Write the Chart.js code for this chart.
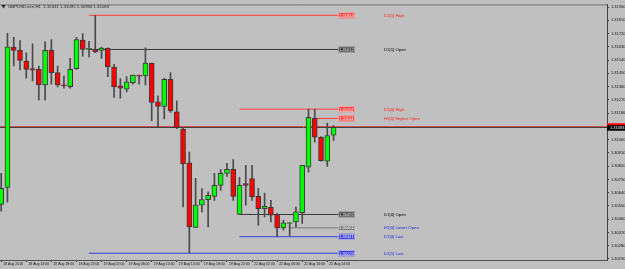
<!DOCTYPE html>
<html>
<head>
<meta charset="utf-8">
<script src="https://cdn.jsdelivr.net/npm/chart.js@4.4.1/dist/chart.umd.min.js"></script>
<style>
  html, body { margin: 0; padding: 0; background: #c0c0c0; }
  #wrap { width: 625px; height: 269px; }
</style>
</head>
<body>
<div id="wrap"><canvas id="candles" width="625" height="269"></canvas></div>
<script>
// GBPUSD.ecn H1 bars, 18 Aug 2016 10:00 .. 22 Aug 2016 15:00
var opens = [1.30561, 1.30676, 1.31628, 1.31606, 1.31533, 1.31482, 1.31477, 1.31371, 1.31608, 1.31455,
             1.31371, 1.31360, 1.31482, 1.31675, 1.31612, 1.31608, 1.31606, 1.31619, 1.31493, 1.31365,
             1.31342, 1.31387, 1.31439, 1.31432, 1.31520, 1.31257, 1.31225, 1.31410, 1.31189, 1.31072,
             1.30843, 1.30404, 1.30555, 1.30593, 1.30615, 1.30690, 1.30771, 1.30798, 1.30492, 1.30701,
             1.30735, 1.30615, 1.30532, 1.30543, 1.30492, 1.30401, 1.30431, 1.30442, 1.30505, 1.30813,
             1.31144, 1.31016, 1.30854, 1.31031];
var highs = [1.30771, 1.31722, 1.31695, 1.31673, 1.31590, 1.31650, 1.31500, 1.31664, 1.31680, 1.31500,
             1.31432, 1.31552, 1.31695, 1.31720, 1.31668, 1.31844, 1.31628, 1.31623, 1.31511, 1.31414,
             1.31428, 1.31439, 1.31439, 1.31623, 1.31520, 1.31297, 1.31417, 1.31455, 1.31263, 1.31083,
             1.30915, 1.30737, 1.30667, 1.30645, 1.30771, 1.30798, 1.30840, 1.30865, 1.30744, 1.30825,
             1.30825, 1.30669, 1.30638, 1.30588, 1.30499, 1.30453, 1.30435, 1.30543, 1.30825, 1.31207,
             1.31207, 1.31020, 1.31113, 1.31095];
var lows = [1.30514, 1.30575, 1.31500, 1.31473, 1.31417, 1.31398, 1.31270, 1.31270, 1.31376, 1.31358,
            1.31349, 1.31349, 1.31477, 1.31567, 1.31562, 1.31590, 1.31552, 1.31428, 1.31286, 1.31282,
            1.31324, 1.31376, 1.31376, 1.31371, 1.31128, 1.31088, 1.31140, 1.31185, 1.31074, 1.30543,
            1.30229, 1.30404, 1.30510, 1.30408, 1.30588, 1.30656, 1.30750, 1.30588, 1.30492, 1.30555,
            1.30588, 1.30420, 1.30476, 1.30442, 1.30341, 1.30386, 1.30346, 1.30408, 1.30431, 1.30780,
            1.30982, 1.30854, 1.30818, 1.30994];
var closes = [1.30669, 1.31630, 1.31606, 1.31538, 1.31477, 1.31471, 1.31371, 1.31606, 1.31455, 1.31371,
              1.31365, 1.31477, 1.31680, 1.31612, 1.31619, 1.31596, 1.31621, 1.31495, 1.31358, 1.31349,
              1.31392, 1.31439, 1.31430, 1.31520, 1.31252, 1.31225, 1.31410, 1.31196, 1.31083, 1.30836,
              1.30408, 1.30555, 1.30593, 1.30622, 1.30690, 1.30771, 1.30798, 1.30615, 1.30690, 1.30690,
              1.30611, 1.30532, 1.30548, 1.30487, 1.30401, 1.30435, 1.30433, 1.30510, 1.30825, 1.31151,
              1.31016, 1.30858, 1.31027, 1.31083];

var timeLabels = ["18 Aug 2016", "18 Aug 14:00", "18 Aug 18:00", "18 Aug 22:00", "19 Aug 02:00",
                  "19 Aug 06:00", "19 Aug 10:00", "19 Aug 14:00", "19 Aug 18:00", "19 Aug 22:00",
                  "22 Aug 02:00", "22 Aug 06:00", "22 Aug 10:00", "22 Aug 14:00"];
var timeLabelBars = [0, 4, 8, 12, 16, 20, 24, 28, 32, 36, 40, 44, 48, 52];

var priceTicks = [1.30190, 1.30280, 1.30370, 1.30460, 1.30550, 1.30640, 1.30730, 1.30820, 1.30910, 1.31000,
                  1.31090, 1.31180, 1.31270, 1.31360, 1.31450, 1.31540, 1.31630, 1.31720, 1.31810, 1.31900];

var levelNames  = ["D1[1] High", "D1[1] Open", "D1[0] High", "H1[1] Higher Open",
                   "D1[0] Open", "H1[0] Lower Open", "D1[0] Low", "D1[1] Low"];
var levelPrices = [1.31844, 1.31612, 1.31207, 1.31144, 1.30492, 1.30401, 1.30341, 1.30229];
var levelFromBar = [14, 14, 38, 50, 38, 46, 38, 14];

var bidPrice = 1.31083;
var askPrice = 1.31094;
var chartTitle = "GBPUSD.ecn,H1  1.31031 1.31095 1.30994 1.31083";

// ---- styling ----
var FONT = '"Liberation Sans", Arial, sans-serif';
var lineEnd = opens.length - 1 + 0.7;

function levelColor(name) {
  if (name.indexOf("Lower Open") >= 0) return "#7a7a7a";
  if (name.indexOf("High") >= 0) return "#ff3b3b";
  if (name.indexOf("Low") >= 0) return "#3a3adf";
  return "#3a3a3a";
}
function levelText(name) {
  if (name.indexOf("High") >= 0) return "#ff2020";
  if (name.indexOf("Low") >= 0) return "#2828e0";
  return "#000000";
}

var bodies = opens.map(function (o, i) { return { x: i, y: [o, closes[i]] }; });
var wicks = lows.map(function (l, i) { return { x: i, y: [l, highs[i]] }; });

var datasets = [
  {
    type: 'bar', data: bodies, order: 0, grouped: false,
    barThickness: 5, minBarLength: 1, borderWidth: 1, borderSkipped: false,
    borderColor: '#3a3a3a',
    backgroundColor: opens.map(function (o, i) { return closes[i] >= o ? '#00ff00' : '#ff0000'; })
  },
  {
    type: 'bar', data: wicks, order: 1, grouped: false,
    barThickness: 1, borderWidth: 0, backgroundColor: '#4a4a4a'
  }
];
levelNames.forEach(function (name, k) {
  datasets.push({
    type: 'line', order: 2,
    data: [{ x: levelFromBar[k], y: levelPrices[k] }, { x: lineEnd, y: levelPrices[k] }],
    borderColor: levelColor(name), borderWidth: 1, pointRadius: 0, tension: 0
  });
});

var decor = {
  id: 'decor',
  beforeDraw: function (chart) {
    var ctx = chart.ctx;
    ctx.save();
    ctx.fillStyle = '#c0c0c0';
    ctx.fillRect(0, 0, chart.width, chart.height);
    ctx.restore();
  },
  beforeDatasetsDraw: function (chart) {
    var ctx = chart.ctx, a = chart.chartArea, ys = chart.scales.y;
    ctx.save();
    var ay = Math.round(ys.getPixelForValue(askPrice)) + 0.5;
    var by = Math.round(ys.getPixelForValue(bidPrice)) + 0.5;
    ctx.lineWidth = 1;
    ctx.strokeStyle = '#d85050';
    ctx.beginPath(); ctx.moveTo(a.left, ay); ctx.lineTo(a.right, ay); ctx.stroke();
    ctx.strokeStyle = '#404040';
    ctx.beginPath(); ctx.moveTo(a.left, by); ctx.lineTo(a.right, by); ctx.stroke();
    ctx.restore();
  },
  afterDraw: function (chart) {
    var ctx = chart.ctx, a = chart.chartArea, xs = chart.scales.x, ys = chart.scales.y;
    ctx.save();
    // frame top
    ctx.strokeStyle = '#707070';
    ctx.lineWidth = 1;
    ctx.beginPath(); ctx.moveTo(0, a.top + 0.5); ctx.lineTo(a.right, a.top + 0.5); ctx.stroke();

    // title
    ctx.fillStyle = '#202020';
    ctx.beginPath(); ctx.moveTo(1.5, 5); ctx.lineTo(5.5, 5); ctx.lineTo(3.5, 8.5); ctx.closePath(); ctx.fill();
    ctx.font = '4.3px ' + FONT;
    ctx.textBaseline = 'middle';
    ctx.textAlign = 'left';
    ctx.fillText(chartTitle, 8, 7);

    // level price boxes and names
    var bx = xs.getPixelForValue(lineEnd);
    levelNames.forEach(function (name, k) {
      var y = ys.getPixelForValue(levelPrices[k]);
      var c = levelColor(name);
      ctx.fillStyle = c;
      ctx.fillRect(bx, y - 3, 17, 6);
      ctx.strokeStyle = '#e8e8e8';
      ctx.lineWidth = 0.6;
      ctx.strokeRect(bx + 0.5, y - 2.5, 16, 5);
      ctx.fillStyle = '#ffffff';
      ctx.font = '4px ' + FONT;
      ctx.textAlign = 'center';
      ctx.fillText(levelPrices[k].toFixed(5), bx + 8.5, y + 0.3);
      ctx.fillStyle = levelText(name);
      ctx.font = '4.3px ' + FONT;
      ctx.textAlign = 'left';
      ctx.fillText(name, 384, y + 0.3);
    });

    // current price labels on the axis
    var ay = ys.getPixelForValue(askPrice);
    var by = ys.getPixelForValue(bidPrice);
    ctx.fillStyle = '#ff0000';
    ctx.fillRect(a.right, ay - 2.5, 18, 5);
    ctx.fillStyle = '#000000';
    ctx.fillRect(a.right, by - 2.2, 18, 5.5);
    ctx.fillStyle = '#ffffff';
    ctx.font = '4px ' + FONT;
    ctx.textAlign = 'left';
    ctx.fillText(bidPrice.toFixed(5), a.right + 3, by + 0.6);
    ctx.restore();
  }
};

new Chart(document.getElementById("candles"), {
  type: 'bar',
  data: { datasets: datasets },
  options: {
    responsive: false,
    animation: false,
    events: [],
    layout: { padding: { top: 3, left: 0, right: 0, bottom: 0 } },
    plugins: { legend: { display: false }, tooltip: { enabled: false }, title: { display: false } },
    scales: {
      x: {
        type: 'linear', min: -0.19, max: 96.6, offset: false,
        grid: { offset: false, drawOnChartArea: false, tickLength: 2, color: '#404040' },
        border: { color: '#505050', width: 1 },
        ticks: {
          align: 'start', labelOffset: 2, padding: 0, maxRotation: 0, autoSkip: false,
          color: '#101010', font: { family: FONT, size: 3.5 },
          callback: function (v) {
            var k = timeLabelBars.indexOf(v);
            return k >= 0 ? timeLabels[k] : '';
          }
        },
        afterBuildTicks: function (s) { s.ticks = timeLabelBars.map(function (v) { return { value: v }; }); },
        afterFit: function (s) { s.height = 9; }
      },
      y: {
        position: 'right', min: 1.30183, max: 1.31918,
        grid: { drawOnChartArea: false, tickLength: 2, color: '#404040' },
        border: { color: '#404040', width: 1 },
        ticks: {
          padding: 2, color: '#101010', font: { family: FONT, size: 4 },
          callback: function (v) { return v.toFixed(5); }
        },
        afterBuildTicks: function (s) { s.ticks = priceTicks.map(function (v) { return { value: v }; }); },
        afterFit: function (s) { s.width = 18; }
      }
    }
  },
  plugins: [decor]
});
</script>
</body>
</html>
